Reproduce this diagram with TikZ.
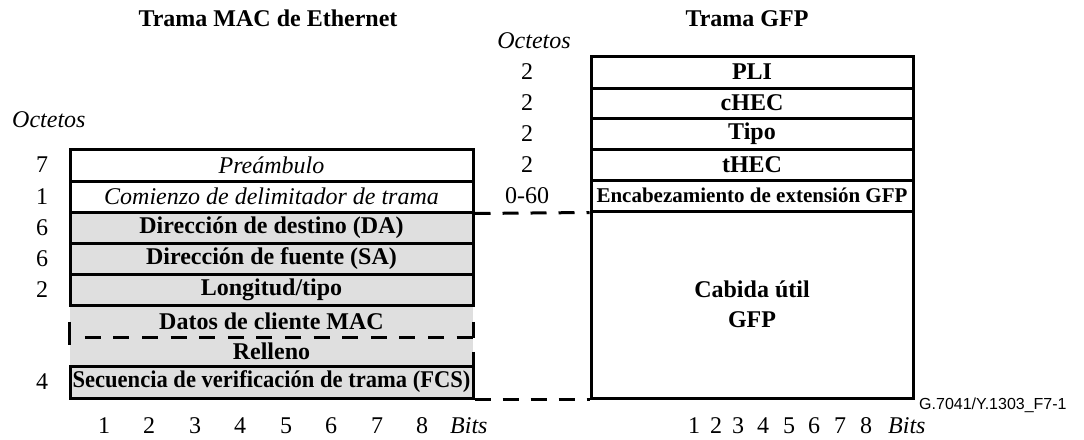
\documentclass[tikz,border=0pt]{standalone}
\usepackage{fontspec}
\setmainfont{Liberation Serif}
\newfontfamily\labelsans{Liberation Sans}
\usetikzlibrary{calc}
\definecolor{fieldgrey}{gray}{0.875}
\begin{document}
\begin{tikzpicture}[x=1pt,y=-1pt,
  font=\fontsize{24}{28}\selectfont,
  lfield/.style={draw, line width=3pt, minimum width=403pt, inner sep=0pt},
  rfield/.style={draw, line width=3pt, minimum width=322pt, inner sep=0pt},
  gfield/.style={fill=fieldgrey},
  greyzone/.style={fill=fieldgrey, minimum width=403pt, inner sep=0pt},
  numlbl/.style={inner sep=0pt},
  linkdash/.style={line width=3pt, dash pattern=on 16pt off 12pt},
  zonedash/.style={line width=3pt, dash pattern=on 16pt off 12.6pt}]
\useasboundingbox (0,0) rectangle (1084,439);

% titles
\node[anchor=base] (tmac) at (268,27) {\textbf{Trama MAC de Ethernet}};
\node[anchor=base] (tgfp) at (747,27) {\textbf{Trama GFP}};
\node[anchor=base west, inner sep=0pt] (octl) at (12,127) {\textit{Octetos}};
\node[anchor=base, inner sep=0pt] (octr) at (534,48) {\textit{Octetos}};

% Ethernet MAC frame
\node[greyzone, minimum height=32pt] (datos) at (271.5,321) {\textbf{Datos de cliente MAC}};
\node[greyzone, minimum height=29pt] (rel) at (271.5,351.5) {\textbf{Relleno}};
\node[lfield, minimum height=32pt] (pre) at (271.5,165) {\textit{Preámbulo}};
\node[lfield, minimum height=31pt] (cdt) at (271.5,196.5) {\textit{Comienzo de delimitador de trama}};
\node[lfield, gfield, minimum height=31pt] (da) at (271.5,227.5) {\textbf{Dirección de destino (DA)}};
\node[lfield, gfield, minimum height=31pt] (sa) at (271.5,258.5) {\textbf{Dirección de fuente (SA)}};
\node[lfield, gfield, minimum height=31pt] (lon) at (271.5,289.5) {\textbf{Longitud/tipo}};
\node[lfield, gfield, minimum height=32pt] (fcs) at (271.5,382) {\scalebox{0.94}[1]{\textbf{Secuencia de verificación de trama (FCS)}}};

% dashed boundaries of the data/pad zone
\draw[zonedash] ($(datos.south west)+(15,0)$) -- (datos.south east);
\draw[line width=3pt, dash pattern=on 0pt off 17pt on 23pt off 100pt] (datos.north west) -- (rel.south west);
\draw[line width=3pt, dash pattern=on 0pt off 17pt on 16pt off 14pt on 14pt off 100pt] (datos.north east) -- (rel.south east);

% left octet counts
\node[numlbl] (n7) at (42,165) {7};
\node[numlbl] (n1) at (42,196.5) {1};
\node[numlbl] (n6a) at (42,227.5) {6};
\node[numlbl] (n6b) at (42,258.5) {6};
\node[numlbl] (n2) at (42,289.5) {2};
\node[numlbl] (n4) at (42,382) {4};

% GFP frame
\node[rfield, minimum height=32pt] (pli) at (752,72) {\textbf{PLI}};
\node[rfield, minimum height=30pt] (chec) at (752,103) {\textbf{cHEC}};
\node[rfield, minimum height=31pt] (tipo) at (752,133.5) {\textbf{Tipo}};
\node[rfield, minimum height=31pt] (thec) at (752,164.5) {\textbf{tHEC}};
\node[rfield, minimum height=31pt] (enc) at (752,195.5) {\fontsize{21}{24}\selectfont\textbf{Encabezamiento de extensión GFP}};
\node[rfield, minimum height=187pt, align=center] (cab) at (752,304.5) {\textbf{Cabida útil}\\[2pt]\textbf{GFP}};

% right octet counts
\node[numlbl] (r1) at (527,72) {2};
\node[numlbl] (r2) at (527,103) {2};
\node[numlbl] (r3) at (527,133.5) {2};
\node[numlbl] (r4) at (527,164.5) {2};
\node[numlbl] (r5) at (527,195.5) {0-60};

% links between frames
\draw[linkdash] (cdt.south east) -- (enc.south west);
\draw[linkdash] (fcs.south east) -- (cab.south west);

% bit numbering
\foreach \i/\x in {1/104,2/149,3/195,4/240,5/286,6/331,7/377,8/422}
  \node[anchor=base, inner sep=0pt] (lb\i) at (\x,433) {\i};
\node[anchor=base west, inner sep=0pt] (lbits) at (450,433) {\textit{Bits}};
\foreach \i/\x in {1/694,2/716,3/738,4/763,5/789,6/814,7/840,8/866}
  \node[anchor=base, inner sep=0pt] (rb\i) at (\x,433) {\i};
\node[anchor=base west, inner sep=0pt] (rbits) at (888,433) {\textit{Bits}};

\node[anchor=base west, inner sep=0pt, font=\labelsans\fontsize{16}{18}\selectfont] (fig) at (919,409) {G.7041/Y.1303\_F7-1};
\end{tikzpicture}
\end{document}
